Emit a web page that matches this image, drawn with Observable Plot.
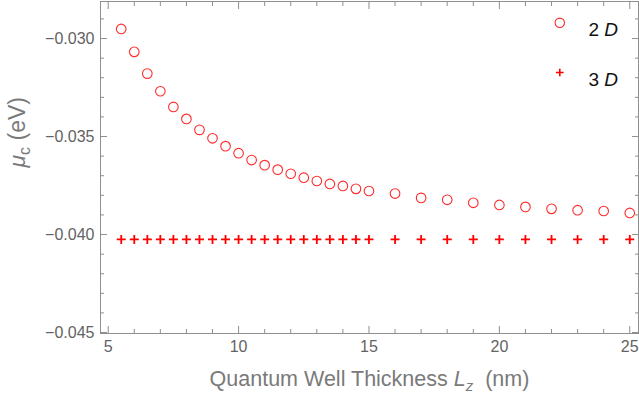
<!DOCTYPE html>
<html><head><meta charset="utf-8">
<script src="https://cdn.jsdelivr.net/npm/d3@7"></script>
<script src="https://cdn.jsdelivr.net/npm/@observablehq/plot@0.6"></script>
<style>body{margin:0;background:#fff} #chart svg{display:block}</style>
</head><body><div id="chart"></div>
<script>
// Quantum well thickness L_z (nm)
const thickness = [5.5, 6, 6.5, 7, 7.5, 8, 8.5, 9, 9.5, 10, 10.5, 11, 11.5, 12, 12.5, 13, 13.5, 14, 14.5, 15,
                   16, 17, 18, 19, 20, 21, 22, 23, 24, 25];
// chemical potential mu_c (eV), 2D
const mu2D = [-0.02951, -0.03068, -0.03179, -0.03269, -0.03349, -0.03410, -0.03466, -0.03509, -0.03549, -0.03585,
              -0.03620, -0.03646, -0.03669, -0.03690, -0.03710, -0.03727, -0.03742, -0.03752, -0.03767, -0.03778,
              -0.03791, -0.03813, -0.03823, -0.03838, -0.03849, -0.03859, -0.03869, -0.03876, -0.03880, -0.03890];
// chemical potential mu_c (eV), 3D
const mu3D = [-0.04025, -0.04025, -0.04025, -0.04025, -0.04025, -0.04025, -0.04025, -0.04025, -0.04025, -0.04025,
              -0.04025, -0.04025, -0.04025, -0.04025, -0.04025, -0.04025, -0.04025, -0.04025, -0.04025, -0.04025,
              -0.04025, -0.04025, -0.04025, -0.04025, -0.04025, -0.04025, -0.04025, -0.04025, -0.04025, -0.04025];
const seriesNames = ["2 D", "3 D"];
const xTicks = [5, 10, 15, 20, 25];
const xMinorTicks = [6, 7, 8, 9, 11, 12, 13, 14, 16, 17, 18, 19, 21, 22, 23, 24];
const yTicks = [-0.045, -0.040, -0.035, -0.030];
const yMinorTicks = [-0.044, -0.043, -0.042, -0.041, -0.039, -0.038, -0.037, -0.036,
                     -0.034, -0.033, -0.032, -0.031, -0.029, -0.028];
const xLabel = "Quantum Well Thickness Lz  (nm)";
const yLabel = "μc (eV)";

const xDomain = [4.705, 25.335];
const yDomain = [-0.04505, -0.02811];

const data2D = thickness.map((x, i) => ({x, y: mu2D[i]}));
const data3D = thickness.map((x, i) => ({x, y: mu3D[i]}));

const plusSymbol = {
  draw(context, size) {
    const r = Math.sqrt(size / Math.PI);
    context.moveTo(-r, 0); context.lineTo(r, 0);
    context.moveTo(0, -r); context.lineTo(0, r);
  }
};

const frameColor = "#8f8f8f";
const tickText = "#636363";

const plot = Plot.plot({
  width: 639, height: 406,
  marginLeft: 100, marginRight: 1, marginTop: 1, marginBottom: 73,
  x: {domain: xDomain},
  y: {domain: yDomain},
  style: {fontFamily: "'Liberation Sans', Arial, sans-serif", background: "white"},
  marks: [
    Plot.frame({stroke: frameColor}),
    // bottom axis
    Plot.axisX(xTicks, {anchor: "bottom", tickSize: -7, tickPadding: 14.5, tickFormat: d => String(d),
      fontSize: 16, stroke: frameColor, fill: tickText, label: null}),
    Plot.axisX(xMinorTicks, {anchor: "bottom", tickSize: -4, tickFormat: () => "", stroke: frameColor, label: null}),
    // top axis (mirrored ticks)
    Plot.axisX(xTicks, {anchor: "top", tickSize: -7, tickFormat: () => "", stroke: frameColor, label: null}),
    Plot.axisX(xMinorTicks, {anchor: "top", tickSize: -4, tickFormat: () => "", stroke: frameColor, label: null}),
    // left axis
    Plot.axisY(yTicks, {anchor: "left", tickSize: -7, tickPadding: 13, tickFormat: d3.format(".3f"),
      fontSize: 16, stroke: frameColor, fill: tickText, label: null}),
    Plot.axisY(yMinorTicks, {anchor: "left", tickSize: -4, tickFormat: () => "", stroke: frameColor, label: null}),
    // right axis (mirrored ticks)
    Plot.axisY(yTicks, {anchor: "right", tickSize: -7, tickFormat: () => "", stroke: frameColor, label: null}),
    Plot.axisY(yMinorTicks, {anchor: "right", tickSize: -4, tickFormat: () => "", stroke: frameColor, label: null}),
    // data
    Plot.dot(data2D, {x: "x", y: "y", r: 4.8, stroke: "#ff2a2a", strokeWidth: 1.1, fill: "none"}),
    Plot.dot(data3D, {x: "x", y: "y", r: 4.5, symbol: plusSymbol, stroke: "#ff0000", strokeWidth: 1.8, fill: "none"}),
    // legend
    Plot.dot([seriesNames[0]], {frameAnchor: "top-right", dx: -78.7, dy: 21.3, r: 4.7, stroke: "#ff2a2a", strokeWidth: 1.1, fill: "none"}),
    Plot.dot([seriesNames[1]], {frameAnchor: "top-right", dx: -78.7, dy: 71, r: 3.8, symbol: plusSymbol, stroke: "#ff0000", strokeWidth: 1.6, fill: "none"}),
    Plot.text([seriesNames[0]], {frameAnchor: "top-right", dx: -50, dy: 21.3, textAnchor: "start", fontSize: 19, fill: "#111"}),
    Plot.text([seriesNames[1]], {frameAnchor: "top-right", dx: -50, dy: 71, textAnchor: "start", fontSize: 19, fill: "#111"}),
    // axis labels
    Plot.text([xLabel], {frameAnchor: "bottom", dy: 52, fontSize: 21.5, fill: "#7a7a7a"}),
    Plot.text([yLabel], {frameAnchor: "left", dx: -83, rotate: -90, fontSize: 23, fill: "#7a7a7a"})
  ]
});

document.getElementById("chart").appendChild(plot);

// rich text: italics and subscripts
const rich = {
  [xLabel]: [{t: "Quantum Well Thickness "}, {t: "L", i: true}, {t: "z", i: true, sub: true}, {t: "  (nm)", back: true}],
  [yLabel]: [{t: "μ", i: true}, {t: "c", sub: true}, {t: " (eV)", back: true}],
  [seriesNames[0]]: [{t: "2 "}, {t: "D", i: true}],
  [seriesNames[1]]: [{t: "3 "}, {t: "D", i: true}]
};
d3.select(plot).selectAll("text").each(function () {
  const s = this.textContent;
  if (!(s in rich)) return;
  const el = d3.select(this);
  el.text(null);
  for (const seg of rich[s]) {
    const ts = el.append("tspan").text(seg.t).attr("xml:space", "preserve").style("white-space", "pre");
    if (seg.i) ts.attr("font-style", "italic");
    if (seg.sub) ts.attr("font-size", "70%").attr("dy", "5");
    if (seg.back) ts.attr("dy", "-5");
  }
});
</script>
</body></html>
